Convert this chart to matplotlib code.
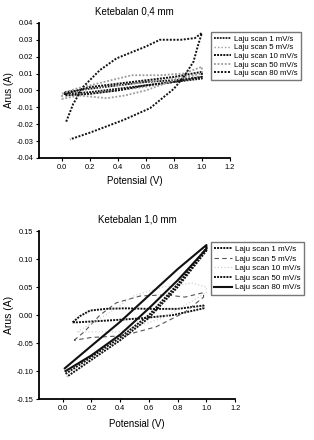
import matplotlib
matplotlib.use('Agg')
import matplotlib.pyplot as plt
import numpy as np

# data (two CV plots, Potensial vs Arus)
labels_top = ['Laju scan 1 mV/s', 'Laju scan 5 mV/s', 'Laju scan 10 mV/s',
              'Laju scan 50 mV/s', 'Laju scan 80 mV/s']
labels_bot = ['Laju scan 1 mV/s', 'Laju scan 5 mV/s', 'Laju scan 10 mV/s',
              'Laju scan 50 mV/s', 'Laju scan 80 mV/s']

# top: Ketebalan 0,4 mm
t1_x = [0.02, 0.2, 0.4, 0.6, 0.8, 1.0, 1.0, 0.8, 0.6, 0.4, 0.2, 0.02, 0.02]
t1_y = [-0.001, 0.001, 0.003, 0.005, 0.006, 0.008, 0.007, 0.005, 0.003, 0.001, -0.001, -0.002, -0.001]
t5_x = [0.02, 0.2, 0.4, 0.6, 0.8, 1.0, 1.0, 0.8, 0.6, 0.4, 0.2, 0.02, 0.02]
t5_y = [-0.002, 0.001, 0.003, 0.005, 0.007, 0.01, 0.008, 0.005, 0.002, 0.0, -0.002, -0.003, -0.002]
t10_x = [0.02, 0.2, 0.4, 0.6, 0.8, 1.0, 1.0, 0.8, 0.6, 0.4, 0.2, 0.02, 0.02]
t10_y = [-0.002, 0.002, 0.004, 0.006, 0.008, 0.011, 0.008, 0.005, 0.003, 0.0, -0.002, -0.003, -0.002]
t50_x = [0.0, 0.1, 0.3, 0.5, 0.7, 0.87, 1.0, 1.0, 0.8, 0.6, 0.45, 0.32, 0.12, 0.0, 0.0]
t50_y = [-0.002, 0.001, 0.005, 0.009, 0.009, 0.010, 0.014, 0.010, 0.006, 0.0, -0.003, -0.0046, -0.003, -0.005, -0.002]
t80_x = [0.03, 0.08, 0.15, 0.27, 0.39, 0.51, 0.6, 0.7, 0.85, 0.95, 1.0,
         0.97, 0.94, 0.87, 0.80, 0.63, 0.44, 0.2, 0.057]
t80_y = [-0.0185, -0.008, 0.002, 0.012, 0.019, 0.023, 0.026, 0.030, 0.030, 0.031, 0.034,
         0.026, 0.017, 0.008, 0.001, -0.0105, -0.0175, -0.025, -0.029]

# bottom: Ketebalan 1,0 mm
b1_x = [0.07, 0.12, 0.19, 0.3, 0.43, 0.6, 0.8, 0.98, 0.98, 0.77, 0.54, 0.3, 0.1, 0.07]
b1_y = [-0.013, -0.002, 0.008, 0.011, 0.012, 0.011, 0.011, 0.017, 0.012, 0.0, -0.006, -0.010, -0.013, -0.013]
b5_x = [0.08, 0.15, 0.26, 0.375, 0.54, 0.72, 0.85, 0.98, 0.98, 0.85, 0.65, 0.42, 0.2, 0.08]
b5_y = [-0.045, -0.03, 0.0, 0.022, 0.034, 0.036, 0.032, 0.040, 0.032, 0.005, -0.021, -0.037, -0.040, -0.045]
b10_x = [0.1, 0.3, 0.5, 0.7, 0.9, 1.0, 1.0, 0.7, 0.4, 0.1]
b10_y = [-0.03, 0.0, 0.035, 0.05, 0.057, 0.05, 0.04, -0.005, -0.03, -0.03]
b50_x = [0.02, 0.2, 0.4, 0.6, 0.8, 1.0, 1.0, 0.8, 0.6, 0.4, 0.2, 0.03]
b50_y = [-0.105, -0.075, -0.04, 0.0, 0.055, 0.12, 0.115, 0.05, -0.005, -0.045, -0.08, -0.11]
b80_x = [0.015, 0.2, 0.4, 0.6, 0.8, 1.0, 1.0, 0.8, 0.6, 0.4, 0.2, 0.02]
b80_y = [-0.095, -0.055, -0.012, 0.035, 0.082, 0.125, 0.118, 0.062, 0.012, -0.035, -0.072, -0.1]

plt.rcParams['font.family'] = ['Liberation Sans', 'DejaVu Sans']

fig = plt.figure(figsize=(3.14, 4.40), dpi=100)
ax1 = fig.add_axes([0.124, 0.641, 0.608, 0.307])
ax2 = fig.add_axes([0.124, 0.093, 0.625, 0.382])

dark = '#111111'
light = '#9a9a9a'

ax1.plot(t1_x, t1_y, color=dark, ls=(0, (1, 0.6)), lw=1.3, label=labels_top[0])
ax1.plot(t5_x, t5_y, color=light, ls=(0, (1, 1.5)), lw=1.0, label=labels_top[1])
ax1.plot(t10_x, t10_y, color=dark, ls=(0, (1, 0.6)), lw=1.4, label=labels_top[2])
ax1.plot(t50_x, t50_y, color=light, ls=(0, (1, 1)), lw=1.3, label=labels_top[3])
ax1.plot(t80_x, t80_y, color=dark, ls=(0, (1, 0.8)), lw=1.4, label=labels_top[4])

ax1.set_xlim(-0.165, 1.2)
ax1.set_ylim(-0.04, 0.04)
ax1.set_xticks([0.0, 0.2, 0.4, 0.6, 0.8, 1.0, 1.2])
ax1.set_yticks([-0.04, -0.03, -0.02, -0.01, 0.0, 0.01, 0.02, 0.03, 0.04])
ax1.set_yticklabels(['%.2f' % v for v in ax1.get_yticks()])
ax1.set_xticklabels(['%.1f' % v for v in ax1.get_xticks()])
ax1.set_title('Ketebalan 0,4 mm', fontsize=7, pad=6)
ax1.set_xlabel('Potensial (V)', fontsize=7, labelpad=4)
ax1.set_ylabel('Arus (A)', fontsize=7, labelpad=2)
ax1.legend(loc='upper left', bbox_to_anchor=(0.672, 0.927), bbox_transform=fig.transFigure,
           fontsize=5.6, frameon=True, fancybox=False, edgecolor='#555555',
           handlelength=2.2, handletextpad=0.4, labelspacing=0.15,
           borderpad=0.4, borderaxespad=0)

ax2.plot(b1_x, b1_y, color=dark, ls=(0, (1, 0.6)), lw=1.4, label=labels_bot[0])
ax2.plot(b5_x, b5_y, color='#555555', ls=(0, (4, 3)), lw=0.8, label=labels_bot[1])
ax2.plot(b10_x, b10_y, color='#c8c8c8', ls=(0, (1, 2)), lw=0.8, label=labels_bot[2])
ax2.plot(b50_x, b50_y, color=dark, ls=(0, (1, 0.6)), lw=1.4, label=labels_bot[3])
ax2.plot(b80_x, b80_y, color=dark, ls='-', lw=1.5, label=labels_bot[4])

ax2.set_xlim(-0.165, 1.2)
ax2.set_ylim(-0.15, 0.15)
ax2.set_xticks([0.0, 0.2, 0.4, 0.6, 0.8, 1.0, 1.2])
ax2.set_yticks([-0.15, -0.10, -0.05, 0.0, 0.05, 0.10, 0.15])
ax2.set_yticklabels(['%.2f' % v for v in ax2.get_yticks()])
ax2.set_xticklabels(['%.1f' % v for v in ax2.get_xticks()])
ax2.set_title('Ketebalan 1,0 mm', fontsize=7, pad=6)
ax2.set_xlabel('Potensial (V)', fontsize=7, labelpad=5)
ax2.set_ylabel('Arus (A)', fontsize=7.5, labelpad=2)
ax2.legend(loc='upper left', bbox_to_anchor=(0.672, 0.450), bbox_transform=fig.transFigure,
           fontsize=5.8, frameon=True, fancybox=False, edgecolor='#555555',
           handlelength=2.2, handletextpad=0.4, labelspacing=0.25,
           borderpad=0.4, borderaxespad=0)

for ax in (ax1, ax2):
    ax.spines['top'].set_visible(False)
    ax.spines['right'].set_visible(False)
    ax.spines['left'].set_linewidth(1.3)
    ax.spines['bottom'].set_linewidth(1.3)
    ax.tick_params(labelsize=5.3, length=2, width=0.8, pad=2)

fig.savefig('out.png', dpi=100)
